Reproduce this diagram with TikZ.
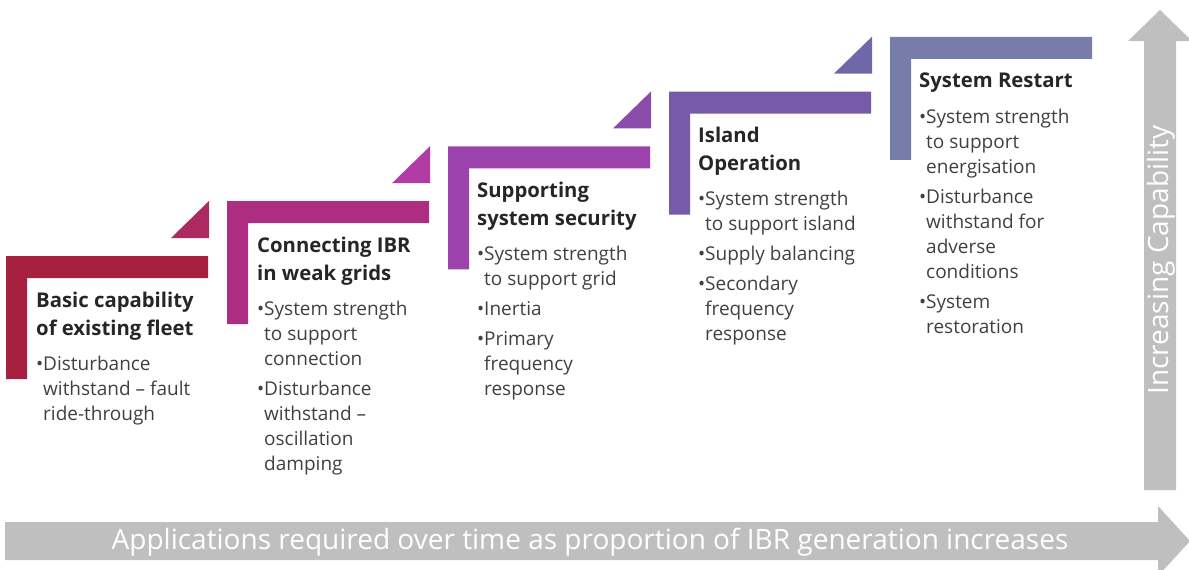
\documentclass[tikz,border=0pt]{standalone}
\usepackage{fontspec}
\setmainfont{Open Sans}
\usetikzlibrary{positioning}
\definecolor{stepA}{HTML}{A6213F}
\definecolor{triA}{HTML}{AC2A5F}
\definecolor{stepB}{HTML}{AD2E81}
\definecolor{triB}{HTML}{B23BA5}
\definecolor{stepC}{HTML}{9B42AC}
\definecolor{triC}{HTML}{8A4CAA}
\definecolor{stepD}{HTML}{785AAA}
\definecolor{triD}{HTML}{6E68A8}
\definecolor{stepE}{HTML}{787CA8}
\definecolor{arrowgray}{HTML}{BFBFBF}
\definecolor{titlegray}{HTML}{262626}
\definecolor{bulletgray}{HTML}{404040}
\newcommand{\bul}{\makebox[7pt][l]{•}}
\newcommand{\ind}{\hspace*{7pt}}

\begin{document}
\begin{tikzpicture}[x=1pt, y=-1pt,
    title/.style={anchor=north west, inner sep=0pt, align=left, text=titlegray,
        font=\fontsize{20.3}{27.5}\selectfont\bfseries},
    bullets/.style={anchor=north west, inner sep=0pt, align=left, text=bulletgray,
        font=\fontsize{19}{25}\selectfont},
    bigtext/.style={inner sep=0pt, text=white, font=\fontsize{28}{32}\selectfont}
    ]
    \useasboundingbox (0,0) rectangle (1189,570);

    % ===== Steps =====
    \foreach \i/\c in {0/stepA,1/stepB,2/stepC,3/stepD,4/stepE} {
        \pgfmathsetmacro\x{6+221*\i}
        \pgfmathsetmacro\y{256-54.8*\i}
        \fill[\c] (\x,\y) -- ++(202,0) -- ++(0,22) -- ++(-181,0) -- ++(0,101) -- ++(-21,0) -- cycle;
    }
    % Corner triangles
    \foreach \i/\c in {0/triA,1/triB,2/triC,3/triD} {
        \pgfmathsetmacro\x{6+221*\i}
        \pgfmathsetmacro\y{256-54.8*\i}
        \fill[\c] (\x+165,\y-18) -- (\x+203,\y-18) -- (\x+203,\y-55) -- cycle;
    }

    % ===== Texts =====
    \node[title] (t1) at (36,292) {Basic capability\\of existing fleet};
    \node[bullets, below=16pt of t1.south west, anchor=north west] (b1)
        {\bul Disturbance\\\ind withstand -- fault\\\ind ride-through};

    \node[title] (t2) at (257,237) {Connecting IBR\\in weak grids};
    \node[bullets, below=16pt of t2.south west, anchor=north west] (b2)
        {\bul System strength\\\ind to support\\\ind connection\\[5pt]
         \bul Disturbance\\\ind withstand --\\\ind oscillation\\\ind damping};

    \node[title] (t3) at (477,182) {Supporting\\system security};
    \node[bullets, below=16pt of t3.south west, anchor=north west] (b3)
        {\bul System strength\\\ind to support grid\\[5pt]
         \bul Inertia\\[5pt]
         \bul Primary\\\ind frequency\\\ind response};

    \node[title] (t4) at (698,127) {Island\\Operation};
    \node[bullets, below=16pt of t4.south west, anchor=north west] (b4)
        {\bul System strength\\\ind to support island\\[5pt]
         \bul Supply balancing\\[5pt]
         \bul Secondary\\\ind frequency\\\ind response};

    \node[title] (t5) at (919,73) {System Restart};
    \node[bullets, below=16pt of t5.south west, anchor=north west] (b5)
        {\bul System strength\\\ind to support\\\ind energisation\\[5pt]
         \bul Disturbance\\\ind withstand for\\\ind adverse\\\ind conditions\\[5pt]
         \bul System\\\ind restoration};

    % ===== Axes arrows =====
    \fill[arrowgray] (5,522) -- (1158,522) -- (1158,506) -- (1190,541) -- (1158,576)
        -- (1158,560) -- (5,560) -- cycle;
    \node[bigtext] (xlabel) at (590,542)
        {Applications required over time as proportion of IBR generation increases};

    \fill[arrowgray] (1144,490) -- (1144,41) -- (1128,41) -- (1160,10) -- (1192,41)
        -- (1176,41) -- (1176,490) -- cycle;
    \node[bigtext, rotate=90] (ylabel) at (1161,260) {Increasing Capability};
\end{tikzpicture}
\end{document}
